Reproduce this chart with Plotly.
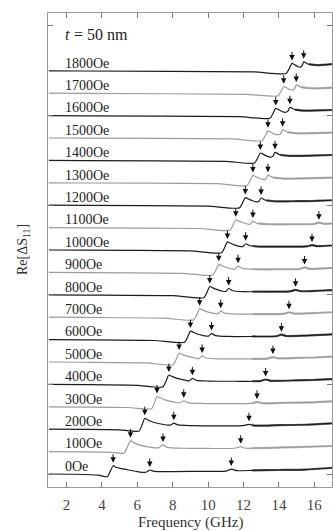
import numpy as np
import plotly.graph_objects as go

# ---------------- data ----------------
FIELDS_OE = [0, 100, 200, 300, 400, 500, 600, 700, 800, 900, 1000,
             1100, 1200, 1300, 1400, 1500, 1600, 1700, 1800]

# arrow positions (GHz)
F1 = [4.63, 5.61, 6.42, 7.11, 7.78, 8.36, 9.00, 9.52, 10.09, 10.60, 11.09,
      11.56, 12.10, 12.53, 12.95, 13.38, 13.82, 14.27, 14.74]
F2 = [6.70, 7.45, 8.06, 8.62, 9.11, 9.66, 10.19, 10.71, 11.16, 11.69, 12.12,
      12.53, 12.99, 13.38, 13.78, 14.21, 14.62, 14.98, 15.40]
F3 = [11.31, 11.84, 12.31, 12.76, 13.25, 13.66, 14.14, 14.57, 14.94, 15.45,
      15.87, 16.26, None, None, None, None, None, None, None]

# traces: frequency (GHz) and Re[dS11] (arb., relative to each trace's baseline)
X_0 = [1.0, 2.5, 3.8, 4.3, 4.63, 4.8, 5.1, 5.5, 6.0, 6.4, 6.55, 6.7, 6.95, 8.0, 10.0, 11.0, 11.31, 11.6, 12.5, 14.0, 15.5, 17.0]
Y_0 = [0.0, -0.01, -0.05, -0.12, 0.37, 0.30, 0.24, 0.18, 0.11, 0.07, 0.10, 0.18, 0.12, 0.11, 0.12, 0.13, 0.22, 0.15, 0.16, 0.18, 0.20, 0.28]
X_100 = [1.0, 3.0, 4.5, 5.25, 5.61, 5.8, 6.1, 6.6, 7.2, 7.45, 7.7, 8.5, 10.0, 11.5, 11.84, 12.1, 13.5, 15.0, 17.0]
Y_100 = [0.0, -0.01, -0.03, -0.07, 0.49, 0.40, 0.30, 0.21, 0.17, 0.30, 0.19, 0.15, 0.14, 0.15, 0.22, 0.15, 0.17, 0.20, 0.25]
X_200 = [1.0, 3.0, 5.0, 6.1, 6.42, 6.6, 6.9, 7.4, 7.85, 8.06, 8.3, 9.0, 10.5, 12.0, 12.31, 12.6, 14.0, 15.5, 17.0]
Y_200 = [0.0, -0.01, -0.03, -0.08, 0.49, 0.41, 0.31, 0.22, 0.18, 0.27, 0.19, 0.16, 0.15, 0.16, 0.22, 0.16, 0.18, 0.20, 0.26]
X_300 = [1.0, 3.0, 5.5, 6.8, 7.11, 7.3, 7.6, 8.1, 8.42, 8.62, 8.85, 9.5, 11.0, 12.45, 12.76, 13.05, 14.5, 16.0, 17.0]
Y_300 = [0.0, -0.01, -0.03, -0.09, 0.46, 0.39, 0.30, 0.21, 0.17, 0.27, 0.19, 0.15, 0.14, 0.15, 0.22, 0.16, 0.18, 0.20, 0.24]
X_400 = [1.0, 3.0, 6.0, 7.45, 7.78, 7.95, 8.25, 8.7, 8.93, 9.11, 9.35, 10.0, 11.5, 12.95, 13.25, 13.55, 15.0, 16.0, 17.0]
Y_400 = [0.0, -0.01, -0.04, -0.11, 0.42, 0.36, 0.27, 0.19, 0.16, 0.27, 0.18, 0.15, 0.14, 0.15, 0.22, 0.16, 0.18, 0.20, 0.24]
X_500 = [1.0, 3.0, 6.5, 8.03, 8.36, 8.52, 8.8, 9.25, 9.48, 9.66, 9.9, 10.6, 12.0, 13.36, 13.66, 13.96, 15.0, 16.0, 17.0]
Y_500 = [0.0, -0.01, -0.04, -0.12, 0.40, 0.34, 0.26, 0.18, 0.15, 0.27, 0.18, 0.14, 0.14, 0.15, 0.22, 0.16, 0.18, 0.20, 0.24]
X_600 = [1.0, 3.0, 7.0, 8.67, 9.0, 9.15, 9.4, 9.8, 10.02, 10.19, 10.43, 11.1, 12.5, 13.84, 14.14, 14.44, 15.5, 17.0]
Y_600 = [0.0, -0.01, -0.04, -0.12, 0.38, 0.33, 0.25, 0.17, 0.15, 0.27, 0.18, 0.14, 0.14, 0.15, 0.22, 0.16, 0.18, 0.23]
X_700 = [1.0, 3.0, 7.5, 9.19, 9.52, 9.67, 9.92, 10.32, 10.54, 10.71, 10.95, 11.6, 13.0, 14.27, 14.57, 14.87, 16.0, 17.0]
Y_700 = [0.0, -0.01, -0.04, -0.12, 0.38, 0.33, 0.25, 0.17, 0.15, 0.27, 0.18, 0.14, 0.14, 0.15, 0.22, 0.16, 0.18, 0.22]
X_800 = [1.0, 3.0, 8.0, 9.76, 10.09, 10.24, 10.48, 10.82, 11.0, 11.16, 11.4, 12.0, 13.5, 14.64, 14.94, 15.24, 16.2, 17.0]
Y_800 = [0.0, -0.01, -0.04, -0.13, 0.37, 0.32, 0.24, 0.16, 0.15, 0.28, 0.18, 0.14, 0.14, 0.15, 0.22, 0.16, 0.18, 0.21]
X_900 = [1.0, 3.0, 8.5, 10.27, 10.6, 10.75, 11.0, 11.33, 11.52, 11.69, 11.93, 12.6, 14.0, 15.15, 15.45, 15.75, 17.0]
Y_900 = [0.0, -0.01, -0.04, -0.12, 0.36, 0.31, 0.23, 0.16, 0.15, 0.28, 0.18, 0.14, 0.14, 0.15, 0.22, 0.16, 0.20]
X_1000 = [1.0, 3.0, 9.0, 10.76, 11.09, 11.24, 11.48, 11.78, 11.96, 12.12, 12.36, 13.0, 14.5, 15.57, 15.87, 16.17, 17.0]
Y_1000 = [0.0, -0.01, -0.04, -0.12, 0.36, 0.31, 0.23, 0.16, 0.15, 0.28, 0.19, 0.15, 0.15, 0.16, 0.22, 0.17, 0.20]
X_1100 = [1.0, 3.0, 9.5, 11.23, 11.56, 11.71, 11.95, 12.22, 12.38, 12.53, 12.77, 13.4, 15.0, 15.96, 16.26, 16.56, 17.0]
Y_1100 = [0.0, -0.01, -0.04, -0.12, 0.35, 0.30, 0.23, 0.16, 0.15, 0.29, 0.19, 0.15, 0.15, 0.16, 0.22, 0.17, 0.19]
X_1200 = [1.0, 3.0, 10.0, 11.77, 12.10, 12.25, 12.5, 12.72, 12.86, 12.99, 13.25, 13.9, 15.0, 16.0, 17.0]
Y_1200 = [0.0, -0.01, -0.04, -0.12, 0.34, 0.29, 0.20, 0.15, 0.16, 0.32, 0.22, 0.17, 0.18, 0.19, 0.22]
X_1300 = [1.0, 3.0, 10.5, 12.2, 12.53, 12.68, 12.92, 13.13, 13.26, 13.38, 13.65, 14.3, 15.5, 17.0]
Y_1300 = [0.0, -0.01, -0.04, -0.12, 0.33, 0.28, 0.19, 0.15, 0.17, 0.34, 0.24, 0.19, 0.20, 0.23]
X_1400 = [1.0, 3.0, 11.0, 12.62, 12.95, 13.1, 13.34, 13.54, 13.66, 13.78, 14.05, 14.7, 15.8, 17.0]
Y_1400 = [0.0, -0.01, -0.04, -0.12, 0.33, 0.28, 0.18, 0.15, 0.18, 0.36, 0.25, 0.20, 0.21, 0.24]
X_1500 = [1.0, 3.0, 11.4, 13.05, 13.38, 13.53, 13.77, 13.97, 14.09, 14.21, 14.48, 15.1, 16.0, 17.0]
Y_1500 = [0.0, -0.01, -0.04, -0.12, 0.32, 0.27, 0.17, 0.15, 0.19, 0.37, 0.26, 0.21, 0.22, 0.24]
X_1600 = [1.0, 3.0, 11.8, 13.49, 13.82, 13.97, 14.2, 14.4, 14.51, 14.62, 14.9, 15.5, 16.3, 17.0]
Y_1600 = [0.0, -0.01, -0.05, -0.12, 0.32, 0.27, 0.17, 0.15, 0.20, 0.37, 0.27, 0.22, 0.23, 0.25]
X_1700 = [1.0, 3.0, 12.2, 13.94, 14.27, 14.42, 14.62, 14.8, 14.9, 14.98, 15.25, 15.8, 16.5, 17.0]
Y_1700 = [0.0, -0.01, -0.05, -0.12, 0.29, 0.25, 0.16, 0.15, 0.22, 0.37, 0.27, 0.22, 0.23, 0.25]
X_1800 = [1.0, 3.0, 12.6, 14.41, 14.74, 14.89, 15.08, 15.24, 15.32, 15.40, 15.65, 16.2, 17.0]
Y_1800 = [0.0, -0.01, -0.05, -0.12, 0.33, 0.27, 0.18, 0.17, 0.24, 0.40, 0.30, 0.25, 0.30]

TRACE_X = [X_0, X_100, X_200, X_300, X_400, X_500, X_600, X_700, X_800, X_900,
           X_1000, X_1100, X_1200, X_1300, X_1400, X_1500, X_1600, X_1700, X_1800]
TRACE_Y = [Y_0, Y_100, Y_200, Y_300, Y_400, Y_500, Y_600, Y_700, Y_800, Y_900,
           Y_1000, Y_1100, Y_1200, Y_1300, Y_1400, Y_1500, Y_1600, Y_1700, Y_1800]

X_TICKS = [2, 4, 6, 8, 10, 12, 14, 16]

# ---------------- figure ----------------
SERIF = "Liberation Serif"
BLACK = "#1c1c1c"
GRAY = "#9c9c9c"
NOISE_FROM = 12.5

fig = go.Figure()
annotations = []

for i, field in enumerate(FIELDS_OE):
    xs = np.array(TRACE_X[i])
    ys = np.array(TRACE_Y[i]) + i  # vertical stacking
    col = BLACK if (field // 100) % 2 == 0 else GRAY
    fig.add_trace(go.Scatter(x=xs, y=ys, mode="lines",
                             line=dict(color=col, width=1.2, shape="spline", smoothing=0.5),
                             hoverinfo="skip", showlegend=False))
    start = max(NOISE_FROM, F2[i] + 0.3)
    m = xs >= start
    xn = np.concatenate([[start], xs[m]])
    yn = np.concatenate([[np.interp(start, xs, ys)], ys[m]])
    fig.add_trace(go.Scatter(x=xn, y=yn, mode="lines",
                             line=dict(color=col, width=2.2, shape="spline", smoothing=0.5),
                             opacity=0.7, hoverinfo="skip", showlegend=False))
    # label
    annotations.append(dict(x=1.78, y=i + 0.34, xref="x", yref="y",
                            text=f"{field}Oe", showarrow=False,
                            xanchor="left", yanchor="middle",
                            font=dict(family=SERIF, size=14, color="#222")))
    # arrows
    for f in (F1[i], F2[i], F3[i]):
        if f is None:
            continue
        annotations.append(dict(x=f, y=float(np.interp(f, xs, ys)), xref="x", yref="y",
                                text="", showarrow=True, ax=0, ay=-13,
                                arrowhead=2, arrowsize=1.1, arrowwidth=1,
                                arrowcolor="#111", standoff=3))

annotations.append(dict(x=1.78, y=19.62, xref="x", yref="y",
                        text="t", showarrow=False,
                        xanchor="left", yanchor="middle",
                        font=dict(family=SERIF, size=16, color="#222", style="italic")))
annotations.append(dict(x=1.78, y=19.62, xref="x", yref="y", xshift=9,
                        text="= 50 nm", showarrow=False,
                        xanchor="left", yanchor="middle",
                        font=dict(family=SERIF, size=16, color="#222")))
annotations.append(dict(x=0.5, y=0, xref="paper", yref="paper", yshift=-35,
                        text="Frequency (GHz)", showarrow=False,
                        xanchor="center", yanchor="middle",
                        font=dict(family=SERIF, size=15, color="#333")))
annotations.append(dict(x=0, y=0.5, xref="paper", yref="paper", xshift=-25,
                        text="Re[ΔS<sub>11</sub>]", showarrow=False, textangle=-90,
                        xanchor="center", yanchor="middle",
                        font=dict(family=SERIF, size=14, color="#333")))

fig.update_layout(
    width=333, height=531,
    margin=dict(l=48, r=1, t=13, b=44),
    paper_bgcolor="white", plot_bgcolor="white",
    font=dict(family=SERIF),
    annotations=annotations,
    xaxis=dict(range=[0.95, 17.0], tickmode="array", tickvals=X_TICKS,
               ticktext=[str(t) for t in X_TICKS],
               ticks="inside", ticklen=5, tickcolor="#777", tickwidth=1,
               showline=True, linecolor="#999", linewidth=1, mirror="ticks",
               showgrid=False, zeroline=False, ticklabelstandoff=4,
               tickfont=dict(family=SERIF, size=15, color="#444")),
    yaxis=dict(range=[-0.58, 20.58], tick0=0, dtick=4,
               ticks="inside", ticklen=5, tickcolor="#777", tickwidth=1,
               showline=True, linecolor="#999", linewidth=1, mirror="ticks",
               showgrid=False, zeroline=False, showticklabels=False),
)

fig.write_html("out.html", config={"displayModeBar": False},
               post_script="document.body.style.margin='0';document.body.style.padding='0';document.body.style.overflow='hidden';")
